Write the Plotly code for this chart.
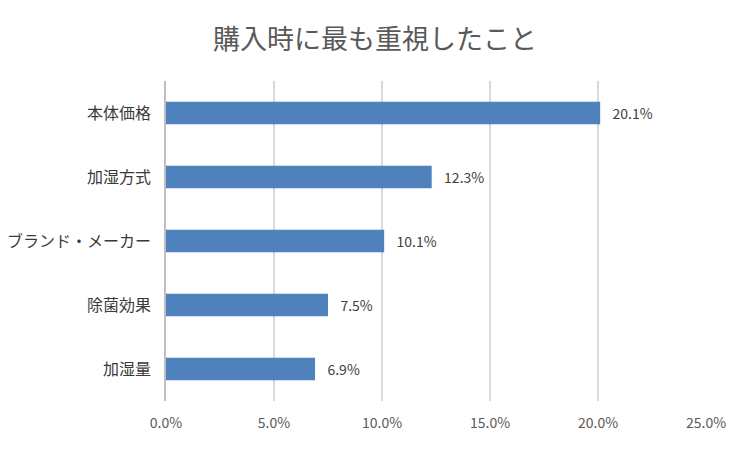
import plotly.graph_objects as go

categories = ["本体価格", "加湿方式", "ブランド・メーカー", "除菌効果", "加湿量"]
values = [20.1, 12.3, 10.1, 7.5, 6.9]
tick_vals = [0, 5, 10, 15, 20, 25]
tick_text = ["0.0%", "5.0%", "10.0%", "15.0%", "20.0%", "25.0%"]

FONT = "Noto Sans CJK JP"

fig = go.Figure(go.Bar(
    x=values, y=categories, orientation="h",
    marker=dict(color="#4F81BD", line=dict(width=0)),
    width=0.35,
    text=[f"   {v:.1f}%" for v in values],
    textposition="outside",
    textfont=dict(family=FONT, size=14, color="#404040"),
    cliponaxis=False,
))

fig.update_layout(
    width=750, height=450,
    margin=dict(l=166, r=44, t=81, b=49, autoexpand=False),
    paper_bgcolor="white", plot_bgcolor="white",
    title=dict(text="購入時に最も重視したこと", x=0.5, xanchor="center",
               y=0.912, yanchor="middle", automargin=False,
               font=dict(family=FONT, size=27, color="#595959")),
    xaxis=dict(range=[0, 25], tickvals=tick_vals, ticktext=tick_text,
               showgrid=True, gridcolor="#d9d9d9", gridwidth=1.5,
               zeroline=False, showline=False, automargin=False,
               tickfont=dict(family=FONT, size=14, color="#595959"),
               ticks="", ticklabelstandoff=12),
    yaxis=dict(autorange="reversed", showline=True, linecolor="#bfbfbf", linewidth=1.5,
               automargin=False,
               tickfont=dict(family=FONT, size=16, color="#3a3a3a"),
               ticks="", ticklabelstandoff=10),
    showlegend=False,
    font=dict(family=FONT),
)

fig.write_html("out.html", config={"displayModeBar": False},
               post_script="document.body.style.margin='0';document.body.style.overflow='hidden';")
